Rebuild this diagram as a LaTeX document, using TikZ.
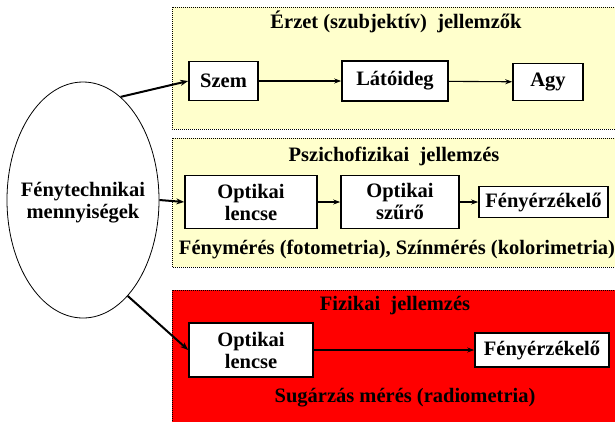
\documentclass[tikz,border=0pt]{standalone}
\usepackage{fontspec}
\setmainfont{Liberation Serif}
\usepackage{tikz}
\usetikzlibrary{
  positioning,
  arrows.meta,
  shapes.geometric
}
\definecolor{halvanysarga}{RGB}{255,255,204}
\tikzstyle{panel}=[draw=black, line width=0.9pt, dash pattern=on 0.9pt off 1.1pt]
\tikzstyle{blokk}=[draw, line width=1.6pt, fill=white, align=center, inner sep=0pt]
\tikzstyle{nyil}=[->, >={Stealth[length=7pt,width=5pt]}, line width=1.1pt]
\tikzstyle{vastagnyil}=[->, >={Stealth[length=8pt,width=6pt]}, line width=2pt]

\begin{document}
\begin{tikzpicture}[x=1pt, y=-1pt, font=\fontsize{20.5}{22}\selectfont\bfseries]
    \useasboundingbox (0,0) rectangle (615,421);
    \clip (0,0) rectangle (615,421);

    % hátterek
    \draw[panel, fill=halvanysarga] (172,7) rectangle (620,129);
    \draw[panel, fill=halvanysarga] (172,138) rectangle (620,267);
    \draw[panel, fill=red] (172,290) rectangle (620,430);

    % bal oldali ellipszis
    \node[ellipse, draw, line width=0.8pt, fill=white, minimum width=152, minimum height=236,
          inner sep=0pt] (menny) at (83,200) {};
    \node[align=center] (mennyszoveg) at (83,203) {Fénytechnikai\\mennyiségek};

    % Érzet
    \node (cim1) at (396,22) {Érzet (szubjektív)\ \ jellemzők};
    \node[blokk, minimum width=69, minimum height=39] (szem) at (223.5,81) {Szem};
    \node[blokk, minimum width=106, minimum height=40] (latoideg) at (395,81) {Látóideg};
    \node[blokk, minimum width=70, minimum height=37] (agy) at (548,82) {Agy};

    % Pszichofizikai
    \node (cim2) at (394,156) {Pszichofizikai\ \ jellemzés};
    \node[blokk, minimum width=132, minimum height=53] (lencse1) at (251,202) {Optikai\\lencse};
    \node[blokk, minimum width=118, minimum height=53] (szuro) at (400,202) {Optikai\\szűrő};
    \node[blokk, minimum width=129, minimum height=31] (erzekelo1) at (543.5,202) {Fényérzékelő};
    \node (megj2) at (397,249) {Fénymérés (fotometria), Színmérés (kolorimetria)};

    % Fizikai
    \node (cim3) at (395,306) {Fizikai\ \ jellemzés};
    \node[blokk, minimum width=124, minimum height=54] (lencse2) at (251,350) {Optikai\\lencse};
    \node[blokk, minimum width=134, minimum height=34] (erzekelo2) at (542,350) {Fényérzékelő};
    \node (megj3) at (405,398) {Sugárzás mérés (radiometria)};

    % nyilak
    \draw[vastagnyil] (menny.70) -- (szem.west);
    \draw[vastagnyil] (menny.east) -- (lencse1.west);
    \draw[vastagnyil] (menny.-65) -- (lencse2.west);
    \draw[nyil] (szem) -- (latoideg);
    \draw[nyil] (latoideg) -- (agy);
    \draw[nyil] (lencse1) -- (szuro);
    \draw[nyil] (szuro) -- (erzekelo1);
    \draw[nyil] (lencse2) -- (erzekelo2);
\end{tikzpicture}
\end{document}
